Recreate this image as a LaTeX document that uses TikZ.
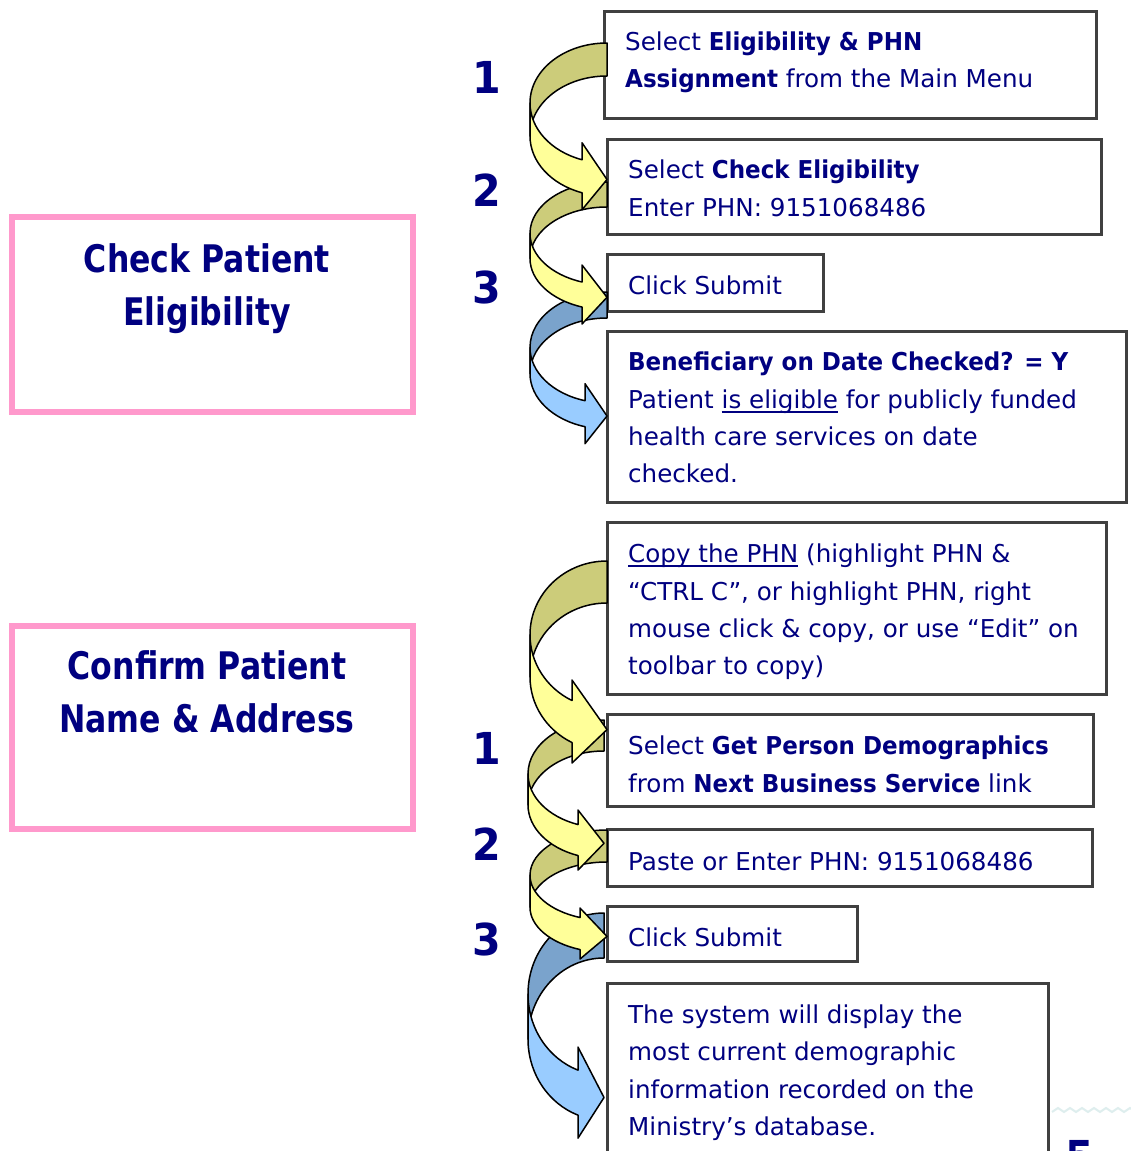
\documentclass[tikz,border=0pt]{standalone}
\usepackage{fontspec}
\setmainfont{DejaVu Sans}[BoldFeatures={FakeStretch=0.935}]
\newfontfamily\titlefont{DejaVu Sans}[FakeStretch=0.83]
\usetikzlibrary{fit}
\definecolor{navy}{RGB}{0,0,128}
\definecolor{boxgray}{RGB}{64,64,64}
\definecolor{pinkb}{RGB}{255,153,204}
\definecolor{yfront}{RGB}{255,255,153}
\definecolor{yback}{RGB}{204,204,122}
\definecolor{bfront}{RGB}{153,204,255}
\definecolor{bback}{RGB}{122,163,204}
\definecolor{faintwave}{RGB}{222,238,238}
\newcommand\myuline[1]{\setbox0\hbox{#1}\rlap{\rule[-4.5pt]{\wd0}{2pt}}\box0\relax}
% #1 right x, #2 left x, #3 top y, #4 band thickness, #5 half radius,
% #6 head length, #7 head width, #8 back colour, #9 front colour
\newcommand\curvarrow[9]{%
  \pgfmathsetmacro\cvw{#1-#2}%
  \pgfmathsetmacro\cvya{-(#3+#5)}%
  \pgfmathsetmacro\cvyb{-(#3+#5+#4)}%
  \pgfmathsetmacro\cvalpha{acos(#6/\cvw)}%
  \pgfmathsetmacro\cvdy{#5*sin(\cvalpha)}%
  \pgfmathsetmacro\cvdh{(#7-#4)/2}%
  \pgfmathsetmacro\cvxa{#1-#6}%
  \pgfmathsetmacro\cvyfive{\cvya-\cvdy}%
  \pgfmathsetmacro\cvyseven{\cvyb-\cvdy}%
  \pgfmathsetmacro\cvyfour{\cvyfive+\cvdh}%
  \pgfmathsetmacro\cvyeight{\cvyseven-\cvdh}%
  \pgfmathsetmacro\cvysix{-(#3+2*#5+#4/2)}%
  \pgfmathsetmacro\cvend{180+\cvalpha}%
  \filldraw[arrline,fill=#8] (#1,-#3)
     arc[start angle=90,end angle=180,x radius=\cvw pt,y radius=#5 pt]
     -- (#2,\cvyb)
     arc[start angle=180,end angle=90,x radius=\cvw pt,y radius=#5 pt]
     -- cycle;
  \filldraw[arrline,fill=#9] (#2,\cvya)
     arc[start angle=180,end angle=\cvend,x radius=\cvw pt,y radius=#5 pt]
     -- (\cvxa,\cvyfour) -- (#1,\cvysix) -- (\cvxa,\cvyeight) -- (\cvxa,\cvyseven)
     arc[start angle=\cvend,end angle=180,x radius=\cvw pt,y radius=#5 pt]
     -- cycle;
}
\begin{document}
\begin{tikzpicture}[x=1pt,y=1pt,
  arrline/.style={draw=black,line width=1.5pt,line join=round},
  gbox/.style={draw=boxgray,line width=3pt,fill=white,inner sep=0pt},
  pbox/.style={draw=pinkb,line width=6pt,inner sep=0pt},
  txt/.style={text=navy,inner sep=0pt,anchor=base west,font=\fontsize{24.6}{28}\selectfont},
  num/.style={text=navy,inner sep=0pt,anchor=base,font=\fontsize{44}{50}\selectfont\bfseries},
  ttl/.style={text=navy,inner sep=0pt,anchor=base,font=\titlefont\bfseries\fontsize{38}{44}\selectfont}]
\clip (0,0) rectangle (1131,-1151);
\fill[white] (0,0) rectangle (1131,-1151);

% left title boxes
\node[pbox,fit={(12,-217) (413,-412)}] (lbox1) {};
\node[pbox,fit={(12,-626) (413,-829)}] (lbox2) {};
\node[ttl] (lt1a) at (207,-272) {Check Patient};
\node[ttl] (lt1b) at (207,-325) {Eligibility};
\node[ttl] (lt2a) at (207,-679) {Confirm Patient};
\node[ttl] (lt2b) at (207,-732) {Name \& Address};

% step boxes
\node[gbox,fit={(604,-11) (1096,-118)}] (b1) {};
\node[gbox,fit={(607,-139) (1101,-234)}] (b2) {};
\node[gbox,fit={(607,-254) (823,-311)}] (b3) {};
\node[gbox,fit={(607,-331) (1126,-502)}] (b4) {};
\node[gbox,fit={(607,-522) (1106,-694)}] (b5) {};
\node[gbox,fit={(607,-714) (1093,-806)}] (b6) {};
\node[gbox,fit={(607,-829) (1092,-886)}] (b7) {};
\node[gbox,fit={(607,-906) (857,-961)}] (b8) {};
\node[gbox,fit={(607,-983) (1048,-1170)}] (b9) {};

% texts
\node[txt] (t1a) at (625,-50) {Select \textbf{Eligibility \& PHN}};
\node[txt] (t1b) at (625,-87.5) {\textbf{Assignment} from the Main Menu};
\node[txt] (t2a) at (628,-178) {Select \textbf{Check Eligibility}};
\node[txt] (t2b) at (628,-216) {Enter PHN: 9151068486};
\node[txt] (t3a) at (628,-294) {Click Submit};
\node[txt] (t4a) at (628,-370) {\textbf{Beneficiary on Date Checked? = Y}};
\node[txt] (t4b) at (628,-408) {Patient \myuline{is eligible} for publicly funded};
\node[txt] (t4c) at (628,-445) {health care services on date};
\node[txt] (t4d) at (628,-482) {checked.};
\node[txt] (t5a) at (628,-562) {\myuline{Copy the PHN} (highlight PHN \&};
\node[txt] (t5b) at (628,-600) {“CTRL C”, or highlight PHN, right};
\node[txt] (t5c) at (628,-637) {mouse click \& copy, or use “Edit” on};
\node[txt] (t5d) at (628,-674) {toolbar to copy)};
\node[txt] (t6a) at (628,-754) {Select \textbf{Get Person Demographics}};
\node[txt] (t6b) at (628,-792) {from \textbf{Next Business Service} link};
\node[txt] (t7a) at (628,-870) {Paste or Enter PHN: 9151068486};
\node[txt] (t8a) at (628,-946) {Click Submit};
\node[txt] (t9a) at (628,-1023) {The system will display the};
\node[txt] (t9b) at (628,-1060) {most current demographic};
\node[txt] (t9c) at (628,-1098) {information recorded on the};
\node[txt] (t9d) at (628,-1135) {Ministry’s database.};

% step numbers
\node[num] (n1) at (487,-93) {1};
\node[num] (n2) at (487,-206) {2};
\node[num] (n3) at (487,-303) {3};
\node[num] (m1) at (487,-764) {1};
\node[num] (m2) at (487,-860) {2};
\node[num] (m3) at (487,-955) {3};

% curved arrows (lower ones first)
\curvarrow{604}{528}{913}{45}{81}{26}{91}{bback}{bfront}
\curvarrow{607}{530}{830}{32}{45.2}{27}{51}{yback}{yfront}
\curvarrow{604}{528}{720}{31}{53.9}{26}{60}{yback}{yfront}
\curvarrow{607}{530}{561}{42}{73.8}{35}{83}{yback}{yfront}
\curvarrow{607}{530}{292}{26}{55.5}{22}{60}{bback}{bfront}
\curvarrow{607}{530}{182}{25}{51.4}{25}{59}{yback}{yfront}
\curvarrow{607}{530}{43}{33}{60}{25}{67}{yback}{yfront}

% page number and faint wave
\draw[faintwave,line width=2pt] (1052,-1112) \foreach \i in {1,...,7} { -- ++(6,4) -- ++(6,-4) };
\node[num] (pg) at (1080,-1172) {5};
\end{tikzpicture}
\end{document}
